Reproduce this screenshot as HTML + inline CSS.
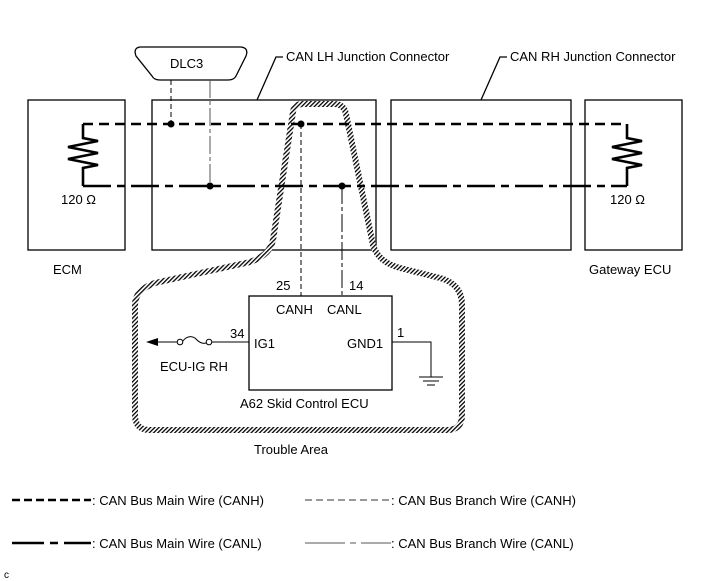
<!DOCTYPE html>
<html><head><style>
html,body{margin:0;padding:0;background:#fff;}
svg{display:block;font-family:"Liberation Sans",Arial,sans-serif;}
text{font-size:13px;fill:#000;}
</style></head><body>
<svg width="713" height="581" viewBox="0 0 713 581" xmlns="http://www.w3.org/2000/svg">
<defs>
<pattern id="h" width="3" height="3" patternUnits="userSpaceOnUse" patternTransform="rotate(45)">
<rect width="3" height="3" fill="#fff"/><rect width="1.3" height="3" fill="#000"/>
</pattern>
</defs>
<g fill="none" stroke="#000" stroke-width="1.3">
<rect x="28" y="100" width="97" height="150"/>
<rect x="152" y="100" width="224" height="150"/>
<rect x="391" y="100" width="180" height="150"/>
<rect x="585" y="100" width="97" height="150"/>
<rect x="249" y="296" width="143" height="94"/>
<path d="M140,47 L241,47 Q249,48 246,56 L236,76 Q234,80 228,80 L160,80 Q154,80 152,76 L136,56 Q133,48 140,47 Z"/>
<path d="M257,100 L276,57 L283,57"/>
<path d="M481,100 L500,57 L507,57"/>
</g>
<text x="170" y="68">DLC3</text>
<text x="286" y="61">CAN LH Junction Connector</text>
<text x="510" y="61">CAN RH Junction Connector</text>
<path d="M293,112 Q294,104 303,104 L334,104 Q344,104 346,114 L373,245 Q378,262 400,268 L440,278 Q462,284 462,305 L462,415 Q462,430 447,430 L150,430 Q135,430 135,415 L135,305 Q135,290 155,283 L250,262 Q270,255 273,240 Z" fill="none" stroke="url(#h)" stroke-width="6"/>
<g fill="none" stroke="#000" stroke-width="2.6">
<path d="M83,124 L627,124" stroke-dasharray="10,6"/>
<path d="M83,186 L627,186" stroke-dasharray="28,6,8,6"/>
<path d="M83,124 L83,138 L98,141 L68,147 L98,153 L68,159 L98,165 L83,168 L83,186"/>
<path d="M627,124 L627,138 L642,141 L612,147 L642,153 L612,159 L642,165 L627,168 L627,186"/>
</g>
<g fill="none" stroke="#000" stroke-width="1">
<path d="M171,80 L171,124" stroke-dasharray="5,3"/>
<path d="M210,80 L210,186" stroke="#555" stroke-dasharray="18,3,4,3"/>
<path d="M301,124 L301,296" stroke-dasharray="5,3"/>
<path d="M342,186 L342,296" stroke-dasharray="18,3,4,3"/>
<path d="M392,342 L431,342 L431,377"/>
<path d="M419,377 L443,377 M423,381 L439,381 M427,385 L435,385"/>
<path d="M249,342 L212,342 M178,342 L158,342"/>
<path d="M182,342 Q188,334 195,338 Q202,346 208,342"/>
</g>
<circle cx="180" cy="342" r="2.8" fill="#fff" stroke="#000"/>
<circle cx="209" cy="342" r="2.8" fill="#fff" stroke="#000"/>
<path d="M146,342 L158,338 L158,346 Z" fill="#000"/>
<g fill="#000">
<circle cx="171" cy="124" r="3.5"/><circle cx="210" cy="186" r="3.5"/>
<circle cx="301" cy="124" r="3.5"/><circle cx="342" cy="186" r="3.5"/>
</g>
<text x="61" y="204">120 Ω</text>
<text x="610" y="204">120 Ω</text>
<text x="53" y="274">ECM</text>
<text x="589" y="274">Gateway ECU</text>
<text x="276" y="290">25</text>
<text x="349" y="290">14</text>
<text x="276" y="314">CANH</text>
<text x="327" y="314">CANL</text>
<text x="230" y="338">34</text>
<text x="254" y="348">IG1</text>
<text x="347" y="348">GND1</text>
<text x="397" y="337">1</text>
<text x="160" y="371">ECU-IG RH</text>
<text x="240" y="408">A62 Skid Control ECU</text>
<text x="254" y="454">Trouble Area</text>
<path d="M12,500 L91,500" stroke="#000" stroke-width="2.6" stroke-dasharray="8,4"/>
<text x="92" y="505">: CAN Bus Main Wire (CANH)</text>
<path d="M305,500 L391,500" stroke="#333" stroke-width="1" stroke-dasharray="7,4"/>
<text x="391" y="505">: CAN Bus Branch Wire (CANH)</text>
<path d="M12,543 L91,543" stroke="#000" stroke-width="2.6" stroke-dasharray="32,6,8,6"/>
<text x="92" y="548">: CAN Bus Main Wire (CANL)</text>
<path d="M305,543 L391,543" stroke="#555" stroke-width="1" stroke-dasharray="40,5,6,5,40"/>
<text x="391" y="548">: CAN Bus Branch Wire (CANL)</text>
<text x="4" y="578" style="font-size:10px">c</text>
</svg>
</body></html>
